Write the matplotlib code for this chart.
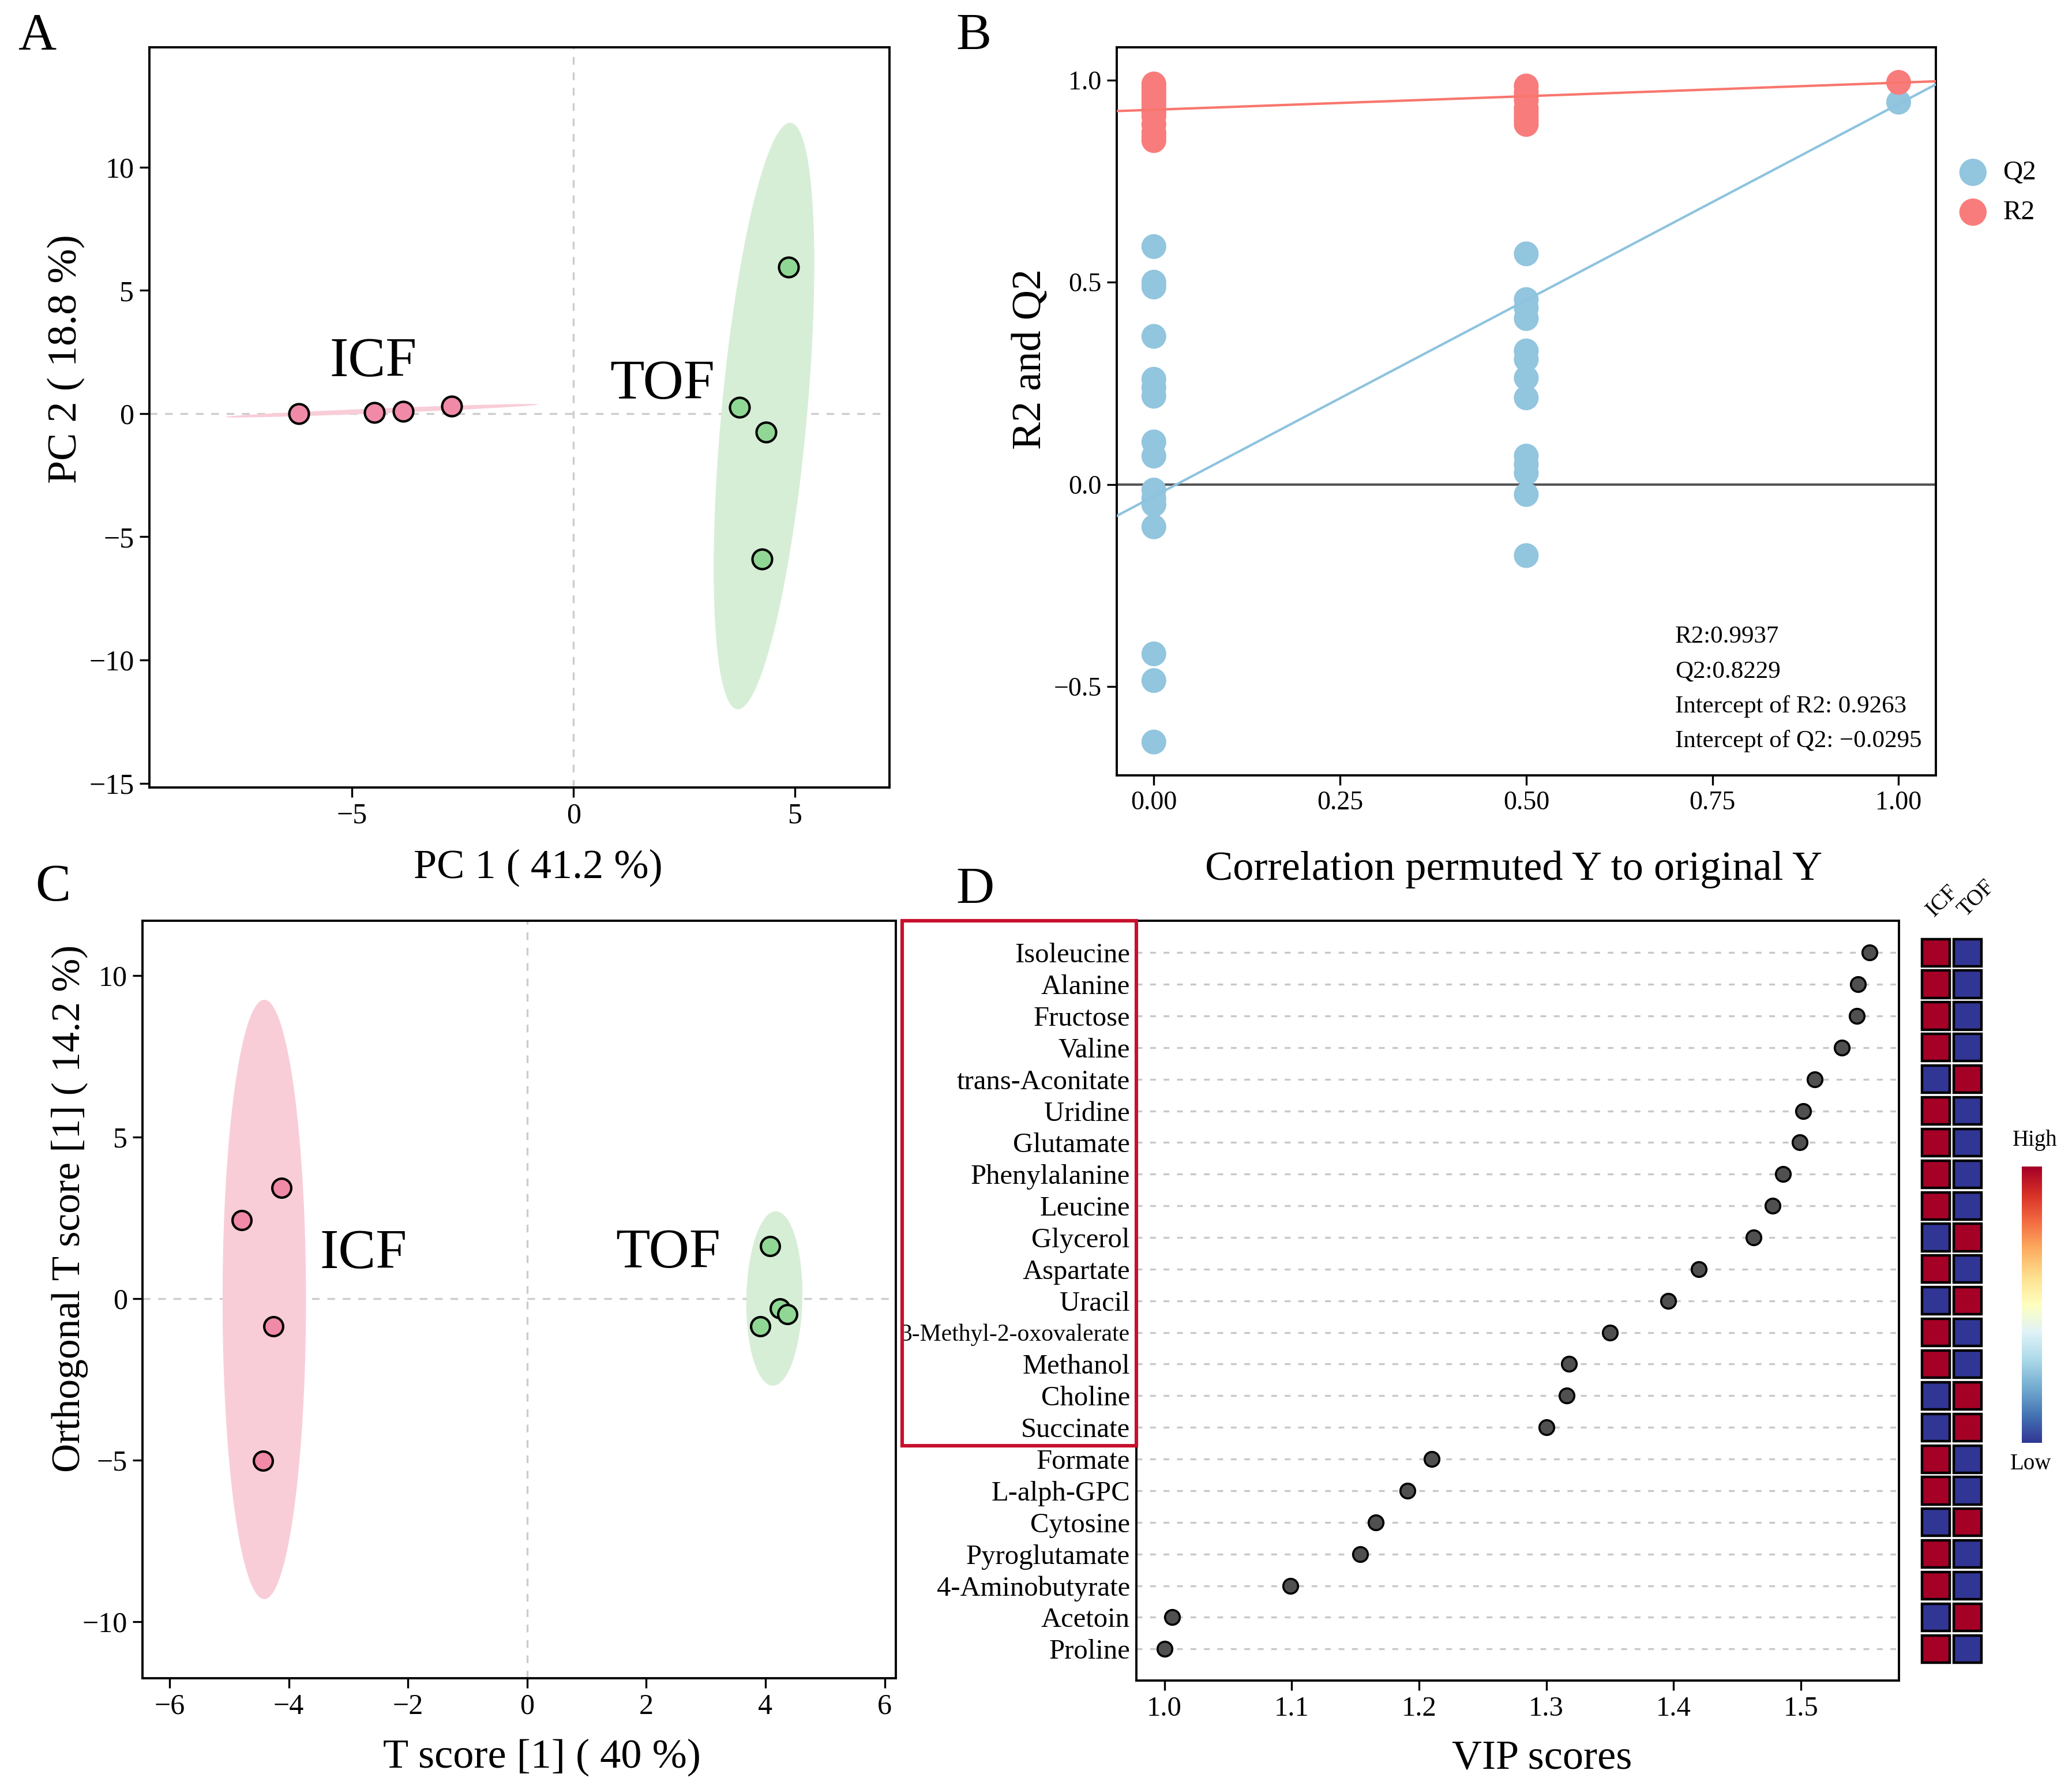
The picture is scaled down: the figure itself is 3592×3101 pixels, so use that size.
import numpy as np
import matplotlib
matplotlib.use('Agg')
import matplotlib.pyplot as plt
from matplotlib.patches import Polygon, Rectangle
import matplotlib.transforms as mtransforms

plt.rcParams['font.family'] = ['Liberation Serif', 'DejaVu Serif']
plt.rcParams['axes.unicode_minus'] = True

# ---------------- data ----------------
# A: PCA scores
pca_icf_x = [-6.2, -4.5, -3.85, -2.75]
pca_icf_y = [0.0, 0.05, 0.1, 0.3]
pca_tof_x = [4.85, 3.75, 4.35, 4.25]
pca_tof_y = [5.95, 0.25, -0.75, -5.9]
# ellipse: center, major half-vector, minor half-vector
pca_icf_ell = [(-4.33, 0.115), (3.53, 0.255), (0.0, 0.1)]
pca_tof_ell = [(4.3, -0.1), (0.59, 11.9), (0.97, 0.0)]

# B: permutation test
perm_r2_x = [0.0] * 13 + [0.5] * 9 + [1.0]
perm_r2_y = [0.99, 0.98, 0.97, 0.96, 0.95, 0.94, 0.93, 0.92, 0.91, 0.89, 0.87, 0.86, 0.85,
             0.985, 0.97, 0.96, 0.95, 0.93, 0.92, 0.91, 0.90, 0.89,
             0.994]
perm_q2_x = [0.0] * 16 + [0.5] * 13 + [1.0]
perm_q2_y = [0.588, 0.50, 0.488, 0.366, 0.26, 0.239, 0.218, 0.105, 0.07, -0.014, -0.035,
             -0.05, -0.105, -0.419, -0.485, -0.637,
             0.57, 0.457, 0.436, 0.41, 0.33, 0.309, 0.263, 0.214, 0.07, 0.049, 0.028,
             -0.025, -0.176,
             0.945]
r2_intercept, r2_slope = 0.9263, 0.067
q2_intercept, q2_slope = -0.0295, 0.97
perm_notes = ['R2:0.9937', 'Q2:0.8229', 'Intercept of R2: 0.9263', 'Intercept of Q2: \u22120.0295']

# C: OPLS-DA scores
opls_icf_x = [-4.79, -4.12, -4.26, -4.43]
opls_icf_y = [2.42, 3.43, -0.87, -5.02]
opls_tof_x = [4.08, 4.24, 4.37, 3.91]
opls_tof_y = [1.63, -0.3, -0.48, -0.87]
opls_icf_ell = [(-4.41, -0.03), (0.0, 9.28), (0.70, 0.0)]
opls_tof_ell = [(4.15, 0.0), (0.025, 2.70), (0.47, 0.0)]

# D: VIP scores
metabolites = ['Isoleucine', 'Alanine', 'Fructose', 'Valine', 'trans-Aconitate', 'Uridine',
               'Glutamate', 'Phenylalanine', 'Leucine', 'Glycerol', 'Aspartate', 'Uracil',
               '3-Methyl-2-oxovalerate', 'Methanol', 'Choline', 'Succinate', 'Formate',
               'L-alph-GPC', 'Cytosine', 'Pyroglutamate', '4-Aminobutyrate', 'Acetoin', 'Proline']
vip = [1.554, 1.545, 1.544, 1.532, 1.511, 1.502, 1.499, 1.486, 1.478, 1.463, 1.420, 1.396,
       1.350, 1.318, 1.316, 1.300, 1.210, 1.191, 1.166, 1.154, 1.099, 1.006, 1.000]
# 1 = higher in ICF, 0 = higher in TOF
icf_high = [1, 1, 1, 1, 0, 1, 1, 1, 1, 0, 1, 0, 1, 1, 0, 0, 1, 1, 0, 1, 1, 0, 1]
heat_cols = ['ICF', 'TOF']
n_boxed = 16

pink_pt, pink_ell = '#F08AA6', '#F9CDD8'
green_pt, green_ell = '#90D795', '#D6EED6'
red_pt, blue_pt = '#F87C7C', '#92C5DE'
red_line, blue_line = '#F8766D', '#8DC3DF'
hi_col, lo_col = '#A50026', '#313695'

W, H = 1568, 1354


def frac(l, t, r, b):
    return [l / W, 1 - b / H, (r - l) / W, (b - t) / H]


def ellipse(ax, spec, color):
    (cx, cy), (ax_, ay), (bx, by) = spec
    t = np.linspace(0, 2 * np.pi, 200)
    x = cx + np.cos(t) * ax_ + np.sin(t) * bx
    y = cy + np.cos(t) * ay + np.sin(t) * by
    ax.add_patch(Polygon(np.column_stack([x, y]), closed=True, facecolor=color,
                         edgecolor='none', zorder=1))


def style(ax, tick_size=18):
    for s in ax.spines.values():
        s.set_linewidth(1.4)
    ax.tick_params(labelsize=tick_size, width=1.2, length=6, direction='out')


fig = plt.figure(figsize=(17.96, 15.505), dpi=200)

# ---------------- A ----------------
axA = fig.add_axes(frac(113, 36, 673, 596))
ellipse(axA, pca_icf_ell, pink_ell)
ellipse(axA, pca_tof_ell, green_ell)
axA.axhline(0, color='#CCCCCC', ls=(0, (4, 4)), lw=1.2, zorder=0)
axA.axvline(0, color='#CCCCCC', ls=(0, (4, 4)), lw=1.2, zorder=0)
axA.scatter(pca_icf_x, pca_icf_y, s=150, c=pink_pt, edgecolors='black', linewidths=1.5, zorder=3)
axA.scatter(pca_tof_x, pca_tof_y, s=150, c=green_pt, edgecolors='black', linewidths=1.5, zorder=3)
axA.text(-4.52, 2.06, 'ICF', fontsize=35, ha='center', va='center')
axA.text(2.0, 1.15, 'TOF', fontsize=35, ha='center', va='center')
axA.set_xlim(-9.58, 7.13)
axA.set_ylim(-15.17, 14.85)
axA.set_xticks([-5, 0, 5])
axA.set_yticks([10, 5, 0, -5, -10, -15])
axA.set_xlabel('PC 1 ( 41.2 %)', fontsize=26)
axA.set_ylabel('PC 2 ( 18.8 %)', fontsize=26)
axA.xaxis.set_label_coords(0.525, -0.083)
axA.yaxis.set_label_coords(-0.087, 0.579)
style(axA)

# ---------------- B ----------------
axB = fig.add_axes(frac(845, 36, 1465, 587))
xs = np.array([-0.05, 1.05])
axB.axhline(0, color='#555555', lw=1.5, zorder=1)
axB.scatter(perm_q2_x, perm_q2_y, s=240, c=blue_pt, edgecolors='none', zorder=2, label='Q2')
axB.scatter(perm_r2_x, perm_r2_y, s=240, c=red_pt, edgecolors='none', zorder=2, label='R2')
axB.plot(xs, r2_intercept + r2_slope * xs, color=red_line, lw=1.5, zorder=3)
axB.plot(xs, q2_intercept + q2_slope * xs, color=blue_line, lw=1.5, zorder=3)
for i, note in enumerate(perm_notes):
    axB.text(0.70, -0.377 - i * 0.086, note, fontsize=15.5, ha='left', va='center')
axB.set_xlim(-0.05, 1.05)
axB.set_ylim(-0.72, 1.08)
axB.set_xticks([0, 0.25, 0.5, 0.75, 1.0])
axB.set_xticklabels(['0.00', '0.25', '0.50', '0.75', '1.00'])
axB.set_yticks([-0.5, 0, 0.5, 1.0])
axB.set_yticklabels(['\u22120.5', '0.0', '0.5', '1.0'])
axB.set_xlabel('Correlation permuted Y to original Y', fontsize=26)
axB.set_ylabel('R2 and Q2', fontsize=26)
axB.xaxis.set_label_coords(0.485, -0.103)
axB.yaxis.set_label_coords(-0.082, 0.572)
style(axB, 16.5)
axB.legend(loc='upper left', bbox_to_anchor=(1.012, 0.845), frameon=False, fontsize=17,
           handletextpad=0.1, labelspacing=0.55, borderaxespad=0, borderpad=0,
           markerscale=1.1)

# ---------------- C ----------------
axC = fig.add_axes(frac(108, 697, 678, 1270))
ellipse(axC, opls_icf_ell, pink_ell)
ellipse(axC, opls_tof_ell, green_ell)
axC.axhline(0, color='#CCCCCC', ls=(0, (4, 4)), lw=1.2, zorder=0)
axC.axvline(0, color='#CCCCCC', ls=(0, (4, 4)), lw=1.2, zorder=0)
axC.scatter(opls_icf_x, opls_icf_y, s=140, c=pink_pt, edgecolors='black', linewidths=1.5, zorder=3)
axC.scatter(opls_tof_x, opls_tof_y, s=140, c=green_pt, edgecolors='black', linewidths=1.5, zorder=3)
axC.text(-2.75, 1.35, 'ICF', fontsize=35, ha='center', va='center')
axC.text(2.37, 1.37, 'TOF', fontsize=35, ha='center', va='center')
axC.set_xlim(-6.45, 6.19)
axC.set_ylim(-11.75, 11.69)
axC.set_xticks([-6, -4, -2, 0, 2, 4, 6])
axC.set_yticks([10, 5, 0, -5, -10])
axC.set_xlabel('T score [1] ( 40 %)', fontsize=26)
axC.set_ylabel('Orthogonal T score [1] ( 14.2 %)', fontsize=25)
axC.xaxis.set_label_coords(0.530, -0.08)
axC.yaxis.set_label_coords(-0.072, 0.62)
style(axC)

# ---------------- D ----------------
axD = fig.add_axes(frac(860, 697, 1437, 1272))
n = len(metabolites)
ypos = np.arange(n, 0, -1)
axD.scatter(vip, ypos, s=85, c='#505050', edgecolors='black', linewidths=1.3, zorder=3)
axD.set_yticks(ypos)
axD.set_yticklabels(metabolites)
axD.set_ylim(0, n + 1)
axD.set_xlim(0.978, 1.577)
axD.set_xticks([1.0, 1.1, 1.2, 1.3, 1.4, 1.5])
axD.grid(axis='y', color='#C8C8C8', ls=(0, (3, 4)), lw=1.2, zorder=0)
axD.set_xlabel('VIP scores', fontsize=26)
axD.xaxis.set_label_coords(0.532, -0.078)
style(axD, 17.5)
axD.tick_params(axis='y', length=0, pad=4)
blend = mtransforms.blended_transform_factory(axD.transAxes, axD.transData)
box_bottom = ypos[n_boxed - 1] - 0.57
axD.add_patch(Rectangle((-0.307, box_bottom), 0.307, n + 1 - box_bottom, transform=blend,
                        fill=False, edgecolor='#C8102E', lw=2.2, clip_on=False, zorder=5))
# the longest name is squeezed so it just touches the red box, as in the original
label_clip = mtransforms.TransformedBbox(mtransforms.Bbox.from_extents(682 / W, 0, 1, 1),
                                         fig.transFigure)
for lbl in axD.get_yticklabels():
    if len(lbl.get_text()) > 20:
        lbl.set_fontsize(15)
    lbl.set_clip_on(True)
    lbl.set_clip_box(label_clip)

# heatmap beside D
axH = fig.add_axes(frac(1453, 697, 1501, 1272))
for j, col in enumerate(heat_cols):
    colors = [hi_col if (v == 1) == (j == 0) else lo_col for v in icf_high]
    axH.barh(ypos, 0.86, left=j - 0.43, height=0.86, color=colors,
             edgecolor='black', linewidth=1.6)
    axH.text(j + 0.05, n + 1.0, col, rotation=45, fontsize=14, ha='left', va='bottom',
             rotation_mode='anchor')
axH.set_xlim(-0.5, 1.5)
axH.set_ylim(0, n + 1)
axH.axis('off')

# colour key
axK = fig.add_axes(frac(1530, 883, 1545, 1092))
grad = np.linspace(1, 0, 256).reshape(-1, 1)
axK.imshow(grad, aspect='auto', cmap='RdYlBu_r')
axK.axis('off')
fig.text(1540 / W, 1 - 863 / H, 'High', fontsize=14, ha='center', va='center')
fig.text(1537 / W, 1 - 1108 / H, 'Low', fontsize=14, ha='center', va='center')

# panel letters
for lab, (x, y) in zip('ABCD', [(28, 28), (737, 28), (40, 672), (738, 674)]):
    fig.text(x / W, 1 - y / H, lab, fontsize=33, ha='center', va='center')

fig.savefig('out.png', dpi=200)
